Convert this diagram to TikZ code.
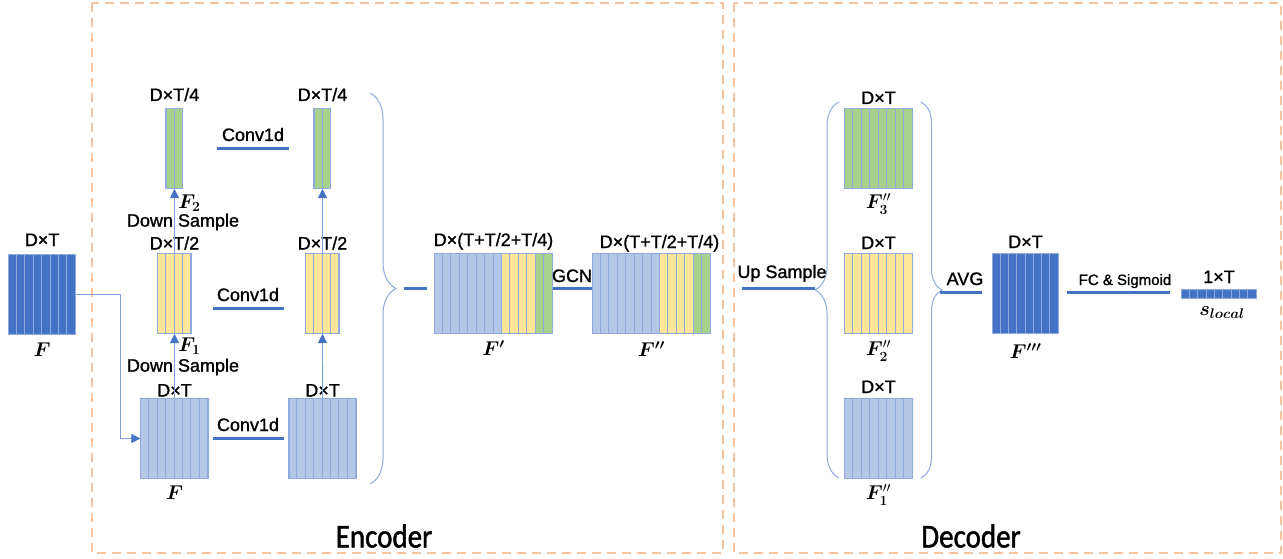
\RequirePackage{fix-cm}
\documentclass[tikz,border=0pt]{standalone}
\usepackage{amsmath,bm}
\usepackage{fontspec}
\setmainfont{Liberation Sans}[BoldFont={Liberation Sans}, BoldFeatures={FakeBold=1.2}]
\newfontfamily\capfont{Carlito}[BoldFont={Carlito}, BoldFeatures={FakeBold=1.5}]
\usetikzlibrary{arrows.meta,decorations.pathreplacing,calc}
\definecolor{dkb}{HTML}{4472C4}
\definecolor{ltb}{HTML}{B4C7E7}
\definecolor{yel}{HTML}{FFE699}
\definecolor{grn}{HTML}{A9D18E}
\definecolor{edgec}{HTML}{8FAADC}
\definecolor{arrc}{HTML}{7F9FD8}
\definecolor{dashc}{HTML}{F4C4A0}
\tikzset{
  cellst/.style={draw=edgec, line width=0.9pt},
  frame/.style={draw=edgec, line width=1pt, inner sep=0pt, anchor=north west},
  lbl/.style={font=\bfseries\fontsize{18}{20}\selectfont, inner sep=0pt},
  smlbl/.style={font=\bfseries\fontsize{15}{17}\selectfont, inner sep=0pt},
  mlbl/.style={font=\fontsize{20}{22}\selectfont, inner sep=0pt},
  caplbl/.style={font=\capfont\bfseries\fontsize{29}{32}\selectfont, inner sep=0pt, transform shape, yscale=1.15},
  conn/.style={draw=dkb, line width=3pt},
  arr/.style={draw=arrc, line width=0.9pt, -{Triangle[width=9pt,length=9pt,color=dkb]}},
  brc/.style={draw=edgec, line width=1pt, decorate},
  dashbox/.style={draw=dashc, line width=2pt, dash pattern=on 9pt off 6pt}
}
% x0 y0 cellwidth height count colour
\newcommand\cellrow[6]{%
  \foreach \k in {1,...,#5}{\draw[cellst,fill=#6] ({#1+(\k-1)*#3},#2) rectangle ++(#3,#4);}}
% name x0 y0 W H
\newcommand\blkframe[5]{%
  \node[frame, minimum width=#4pt, minimum height=#5pt] (#1) at (#2,#3) {};}
\begin{document}
\begin{tikzpicture}[x=1pt,y=-1pt]
\useasboundingbox (0,0) rectangle (1283,559);
\fill[white] (0,0) rectangle (1283,559);

% dashed frames
\draw[dashbox] (92,3) rectangle (723,553);
\draw[dashbox] (734,3) rectangle (1281,553);
\node[caplbl] (enc) at (384,536) {Encoder};
\node[caplbl] (dec) at (971,536) {Decoder};

% input F
\cellrow{8}{254}{8.4}{80}{8}{dkb}
\blkframe{Fin}{8}{254}{67.2}{80}
\node[lbl, anchor=base, yshift=8pt] (lFin) at (Fin.north) {D×T};
\node[mlbl, yshift=-15pt] (mFin) at (Fin.south) {$\bm{F}$};

% encoder left column
\cellrow{140.4}{398}{8.4}{80}{8}{ltb}
\blkframe{E1a}{140.4}{398}{67.2}{80}
\cellrow{157.2}{253}{8.4}{80}{4}{yel}
\blkframe{E2a}{157.2}{253}{33.6}{80}
\cellrow{165.6}{108}{8.4}{80}{2}{grn}
\blkframe{E3a}{165.6}{108}{16.8}{80}

% encoder right column
\cellrow{288.5}{398}{8.4}{80}{8}{ltb}
\blkframe{E1b}{288.5}{398}{67.2}{80}
\cellrow{305.2}{253}{8.4}{80}{4}{yel}
\blkframe{E2b}{305.2}{253}{33.6}{80}
\cellrow{313.6}{108}{8.4}{80}{2}{grn}
\blkframe{E3b}{313.6}{108}{16.8}{80}

% labels encoder columns
\node[lbl, anchor=base, yshift=1.5pt] (lE1a) at (E1a.north) {D×T};
\node[lbl, anchor=base, yshift=3.5pt] (lE2a) at (E2a.north) {D×T/2};
\node[lbl, anchor=base, yshift=7pt] (lE3a) at (E3a.north) {D×T/4};
\node[lbl, anchor=base, yshift=1.5pt] (lE1b) at (E1b.north) {D×T};
\node[lbl, anchor=base, yshift=3.5pt] (lE2b) at (E2b.north) {D×T/2};
\node[lbl, anchor=base, yshift=7pt] (lE3b) at (E3b.north) {D×T/4};
\node[mlbl, yshift=-14pt] (mE1a) at (E1a.south) {$\bm{F}$};
\node[mlbl, xshift=15pt, yshift=-12pt] (mF1) at (E2a.south) {$\bm{F}_{\bm{1}}$};
\node[mlbl, xshift=15pt, yshift=-14pt] (mF2) at (E3a.south) {$\bm{F}_{\bm{2}}$};
\node[lbl] (ds1) at (183,367) {Down Sample};
\node[lbl] (ds2) at (183,222) {Down Sample};

% arrows
\draw[arr] (Fin.east) -- ++(44,0) |- (E1a.west);
\draw[arr] (E1a.north) -- (E2a.south);
\draw[arr] (E2a.north) -- (E3a.south);
\draw[arr] (E1b.north) -- (E2b.south);
\draw[arr] (E2b.north) -- (E3b.south);

% conv1d lines
\draw[conn, shorten <=33.6pt, shorten >=24.6pt] (E3a.east) -- (E3b.west);
\node[lbl, anchor=base] (c3) at (253,141) {Conv1d};
\draw[conn, shorten <=21.2pt, shorten >=21.2pt] ([yshift=-15pt]E2a.east) -- ([yshift=-15pt]E2b.west);
\node[lbl, anchor=base] (c2) at (248,301) {Conv1d};
\draw[conn, shorten <=4.4pt, shorten >=4.5pt] (E1a.east) -- (E1b.west);
\node[lbl, anchor=base] (c1) at (248,431) {Conv1d};

% encoder brace
\coordinate (ebT) at (370,93);
\coordinate (ebB) at (370,484);
\draw[brc, decoration={brace, amplitude=26pt}] (ebT) -- (ebB);
\coordinate (cc1) at (404,288);
\coordinate (cc2) at (427,288);
\draw[conn] (cc1) -- (cc2);

% F' block
\cellrow{434}{253}{8.43}{80}{8}{ltb}
\cellrow{501.44}{253}{8.43}{80}{4}{yel}
\cellrow{535.16}{253}{8.43}{80}{2}{grn}
\blkframe{Fp}{434}{253}{118}{80}
% F'' block
\cellrow{592}{253}{8.43}{80}{8}{ltb}
\cellrow{659.44}{253}{8.43}{80}{4}{yel}
\cellrow{693.16}{253}{8.43}{80}{2}{grn}
\blkframe{Fpp}{592}{253}{118}{80}
\node[lbl, anchor=base, yshift=7pt] (lFp) at (Fp.north) {D×(T+T/2+T/4)};
\node[lbl, anchor=base, yshift=5pt, xshift=8pt] (lFpp) at (Fpp.north) {D×(T+T/2+T/4)};
\node[mlbl, yshift=-14pt] (mFp) at (Fp.south) {$\bm{F'}$};
\node[mlbl, yshift=-15pt] (mFpp) at (Fpp.south) {$\bm{F''}$};
\draw[conn] ([yshift=5pt]Fp.east) -- ([yshift=5pt]Fpp.west);
\node[lbl, anchor=base] (gcn) at (572,282) {GCN};

% decoder
\coordinate (ldT) at (839,102);
\coordinate (ldB) at (839,478);
\draw[brc, decoration={brace, amplitude=24pt}] (ldB) -- (ldT);
\coordinate (us1) at (742,288);
\coordinate (us2) at (815,288);
\draw[conn] (us1) -- (us2);
\node[lbl, anchor=base] (usl) at (782,278) {Up Sample};

\cellrow{844}{108}{8.5}{80}{8}{grn}
\blkframe{D3}{844}{108}{68}{80}
\cellrow{844}{253}{8.5}{80}{8}{yel}
\blkframe{D2}{844}{253}{68}{80}
\cellrow{844}{398}{8.5}{80}{8}{ltb}
\blkframe{D1}{844}{398}{68}{80}
\node[lbl, anchor=base, yshift=4pt] (lD3) at (D3.north) {D×T};
\node[lbl, anchor=base, yshift=4pt] (lD2) at (D2.north) {D×T};
\node[lbl, anchor=base, yshift=5pt] (lD1) at (D1.north) {D×T};
\node[mlbl, yshift=-15pt] (mD3) at (D3.south) {$\bm{F}_{\bm{3}}''$};
\node[mlbl, yshift=-17pt] (mD2) at (D2.south) {$\bm{F}_{\bm{2}}''$};
\node[mlbl, yshift=-16pt] (mD1) at (D1.south) {$\bm{F}_{\bm{1}}''$};

\coordinate (rdT) at (921,102);
\coordinate (rdB) at (921,478);
\draw[brc, decoration={brace, amplitude=21pt}] (rdT) -- (rdB);
\coordinate (avg1) at (940,292);

\cellrow{992}{253}{8.25}{80}{8}{dkb}
\blkframe{Fppp}{992}{253}{66}{80}
\node[lbl, anchor=base, yshift=5pt] (lFppp) at (Fppp.north) {D×T};
\node[mlbl, yshift=-17pt] (mFppp) at (Fppp.south) {$\bm{F'''}$};
\draw[conn, shorten >=10pt] (avg1) -- (avg1 -| Fppp.west);
\node[lbl, anchor=base] (avgl) at (965,285) {AVG};

\cellrow{1181}{289}{8.333}{9}{9}{dkb}
\blkframe{S}{1181}{289}{75}{9}
\draw[conn, shorten <=8pt, shorten >=11pt] ([yshift=1pt]Fppp.east) -- ([yshift=1pt]Fppp.east -| S.west);
\node[smlbl, anchor=base] (fcl) at (1125,285) {FC \& Sigmoid};
\node[lbl, anchor=base, yshift=6pt] (lS) at (S.north) {1×T};
\node[mlbl] (mS) at (1222,313) {$\bm{s_{local}}$};
\end{tikzpicture}
\end{document}
